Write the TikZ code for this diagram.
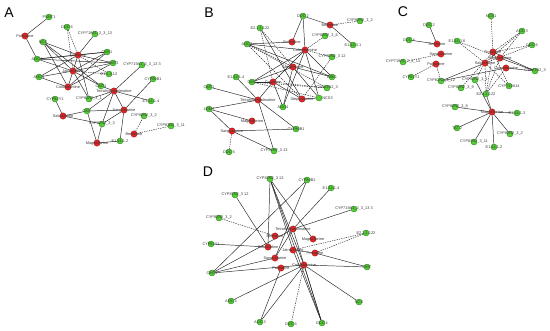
\documentclass[tikz,border=0pt]{standalone}
\usepackage{fontspec}
\setmainfont{Liberation Sans}
\usepackage{xcolor}
\usetikzlibrary{backgrounds}
\definecolor{gfill}{RGB}{84,206,52}
\definecolor{gline}{RGB}{40,130,30}
\definecolor{rfill}{RGB}{228,36,36}
\definecolor{rline}{RGB}{150,20,20}
\definecolor{lblgray}{RGB}{55,55,55}
\tikzset{
  gnode/.style={circle, draw=gline, fill=gfill, line width=0.3pt, minimum size=0.18cm, inner sep=0pt},
  rnode/.style={circle, draw=rline, fill=rfill, line width=0.3pt, minimum size=0.19cm, inner sep=0pt},
  lbl/.style={font=\fontsize{3.3}{3.5}\selectfont, text=lblgray, inner sep=0pt},
  edge/.style={draw=black!85, line width=0.4pt},
  dashedge/.style={edge, dash pattern=on 1.1pt off 0.9pt},
  panel/.style={font=\fontsize{12}{12}\selectfont, inner sep=0pt}
}
\begin{document}
\begin{tikzpicture}[x=0.03cm, y=-0.03cm]
		\useasboundingbox (0,0) rectangle (550,331);
		% panel letters
		\node[panel] (pa) at (9,13) {A};
		\node[panel] (pb) at (209,13) {B};
		\node[panel] (pc) at (403,12) {C};
		\node[panel] (pd) at (208,172) {D};
		% A: nodes
		\foreach \n/\s/\x/\y/\t in {a1/g/49/17/PSMT1, a2/g/67/27/DDC 6, a3/r/25/36/Palmatine,
			a4/g/95/34/CYP719A1\_2\_3\_13, a5/g/43/42/NCS, a6/r/78/55/Coptisine, a7/g/107/52/OMT1,
			a8/g/37/59/AOC4, a9/g/113/63/OMT3, a10/r/73/71/Jatrorrhizine, a11/g/109/74/E1.1.1.12,
			a12/g/39/77/AOC3, a13/g/142/65/CYP719A1\_2\_3\_13 3, a14/r/68/87/Columbamine,
			a15/g/101/86/OMT4, a16/g/153/79/CYP80B1, a17/r/114/91/Tetrahydropalmatine,
			a18/g/55/99/CYP82Y1, a19/g/89/99/CYP82N2\_3\_1, a20/g/151/101/E1.14.1.4, a21/g/87/111/OMT,
			a22/r/124/110/Sanguinarine, a23/r/63/116/Salutaridine, a24/g/144/116/CYP82N2\_3\_2,
			a25/g/102/124/CYP82N2\_3\_3, a26/g/171/126/CYP82N2\_3\_11, a27/r/134/134/Berberine,
			a28/g/120/141/E1.14.1.2, a29/r/97/143/Magnoflorine}
			\node[\s node, label={[lbl]center:\t}] (\n) at (\x,\y) {};
		% B: nodes
		\foreach \n/\s/\x/\y/\t in {b1/g/303/16/DDC 2, b2/r/330/25/Berberine, b3/g/360/21/CYP82N2\_3\_2,
			b4/g/325/36/CYP82N2\_3\_6, b5/g/353/45/E1.14.3.1, b6/g/260/28/E2.1.1.122, b7/r/292/42/Palmatine,
			b8/g/247/44/AOC3, b9/r/305/50/Columbamine, b10/g/332/57/CYP82N2\_3 12, b11/r/293/67/Jatrorrhizine,
			b12/g/236/77/E1.14.1.4, b13/g/332/77/BBE1, b14/g/252/82/OMT, b15/r/273/82/Coptisine,
			b16/g/327/88/CYP82N2\_3, b17/g/209/87/OMT1, b18/r/258/100/Tetrahydropalmatine,
			b19/r/302/99/Stepharanine, b21/g/283/107/AOC4, b22/g/209/109/4OMT,
			b23/r/252/121/Magnoflorine, b24/r/232/131/Sanguinarine, b25/g/296/129/CYP80B1,
			b26/g/229/152/DDC 6, b27/g/274/151/CYP82N2\_3 13}
			\node[\s node, label={[lbl]center:\t}] (\n) at (\x,\y) {};
		\node[gnode, label={[lbl]east:NCS3}] (b20) at (319,98) {};
		% C: nodes
		\foreach \n/\s/\x/\y/\t in {c1/g/491/16/NCS1, c2/g/429/25/DDC 2, c3/g/522/31/AOC 3, c4/g/409/40/DDC 4,
			c5/g/457/41/E1.14.3.6, c6/g/532/45/DDC 6, c7/r/437/44/Berberine, c8/r/493/52/Protopine,
			c9/r/441/54/Sanguinarine, c10/r/500/58/Stepharanine, c11/r/485/63/Salutaridine,
			c12/r/506/68/Columbamine, c13/r/436/64/Palmatine, c14/g/403/62/CYP719A1\_2\_3\_13,
			c15/g/535/71/CYP82N2\_3, c16/g/411/77/CYP82Y1, c17/g/441/81/CYP82N2\_3\_12,
			c18/g/475/80/CYP82N2\_3\_1, c19/g/509/86/CYP719A14, c20/g/461/88/CYP82N2\_3\_9,
			c21/g/486/94/E2.1.1.122, c22/g/455/107/CYP82N2\_3\_8, c23/r/492/112/Magnoflorine,
			c24/g/517/113/E1.14.1.3, c25/g/457/128/TAT 2, c26/g/510/134/CYP82N2\_3\_2,
			c27/g/474/142/CYP82N2\_3\_11, c28/g/494/147/E1.14.1.2}
			\node[\s node, label={[lbl]center:\t}] (\n) at (\x,\y) {};
		% D: nodes
		\foreach \n/\s/\x/\y/\t in {d1/g/270/179/CYP82N2\_3 13, d2/g/307/180/CYP80B1, d3/g/331/188/E1.14.1.4,
			d4/g/235/195/CYP82N2\_3 12, d5/g/354/209/CYP719A1\_2\_3\_13 3, d6/g/219/218/CYP82N2\_3\_2,
			d7/r/293/229/Tetrahydropalmatine, d8/g/366/233/E2.1.1.122, d9/r/275/236/Berberine,
			d10/r/313/239/Magnoflorine, d11/g/211/244/CYP82Y1, d12/r/268/247/Salutaridine,
			d13/r/293/250/Jatrorrhizine, d14/r/315/253/Protopine, d15/r/275/258/Sanguinarine,
			d16/r/304/265/Columbamine, d17/g/367/267/OMT, d18/r/281/268/Palmatine, d19/g/212/273/OMT1,
			d20/g/231/301/AOC 4, d21/g/359/302/NCS, d22/g/260/322/AOC 3, d23/g/291/324/DDC 6,
			d24/g/322/323/DDC 4}
			\node[\s node, label={[lbl]center:\t}] (\n) at (\x,\y) {};
		% connectors, under the nodes
		\begin{scope}[on background layer]
			\foreach \a/\b in {a1/a3, a3/a8, a4/a6, a5/a6, a5/a10, a5/a14, a5/a15, a8/a6, a8/a7, a8/a10,
				a8/a9, a6/a7, a6/a9, a6/a14, a10/a7, a10/a9, a10/a15, a14/a7, a14/a12, a12/a6, a12/a10,
				a14/a9, a19/a6, a19/a10, a17/a13, a17/a20, a17/a19, a17/a21, a17/a25, a17/a22, a17/a15,
				a22/a16, a22/a21, a22/a25, a22/a28, a23/a18, a23/a21, a23/a25, a21/a29, a25/a29, a29/a28}
				\draw[edge] (\a) -- (\b);
			\foreach \a/\b in {a2/a6, a2/a10, a10/a11, a6/a11, a27/a24, a27/a26}
				\draw[dashedge] (\a) -- (\b);
			\foreach \a/\b in {b1/b7, b1/b9, b1/b2, b2/b5, b7/b8, b8/b9, b8/b13, b6/b19, b9/b14, b9/b21,
				b9/b20, b9/b13, b9/b15, b11/b14, b11/b13, b11/b21, b11/b20, b15/b21, b15/b19, b15/b14,
				b19/b20, b12/b18, b17/b18, b18/b27, b22/b18, b22/b23, b22/b24, b18/b15, b18/b25,
				b24/b25, b24/b27}
				\draw[edge] (\a) -- (\b);
			\foreach \a/\b in {b2/b3, b9/b4, b8/b11, b8/b19, b8/b16, b6/b11, b6/b15, b10/b9, b10/b19,
				b14/b16, b15/b16, b24/b26, b14/b20}
				\draw[dashedge] (\a) -- (\b);
			\foreach \a/\b in {c2/c7, c4/c7, c15/c8, c15/c10, c15/c12, c17/c11, c17/c12, c18/c23,
				c23/c22, c23/c24, c23/c25, c23/c26, c23/c27, c23/c28, c23/c21}
				\draw[edge] (\a) -- (\b);
			\foreach \a/\b in {c9/c14, c13/c16, c13/c17, c5/c11, c5/c10, c1/c8, c3/c8, c3/c11, c3/c10,
				c6/c8, c6/c11, c18/c11, c19/c11, c19/c8, c21/c8, c21/c10, c21/c11, c21/c12, c20/c8}
				\draw[dashedge] (\a) -- (\b);
			\foreach \a/\b in {d1/d12, d1/d13, d1/d10, d1/d24, d1/d16, d2/d15, d2/d19, d3/d7, d4/d12,
				d5/d7, d11/d12, d7/d19, d7/d15, d7/d24, d13/d14, d14/d17, d16/d17, d16/d20, d16/d22,
				d16/d21, d16/d24, d16/d19, d18/d22, d15/d19, d13/d24}
				\draw[edge] (\a) -- (\b);
			\foreach \a/\b in {d6/d9, d8/d13, d8/d14, d16/d23}
				\draw[dashedge] (\a) -- (\b);
		\end{scope}
	\end{tikzpicture}
\end{document}
